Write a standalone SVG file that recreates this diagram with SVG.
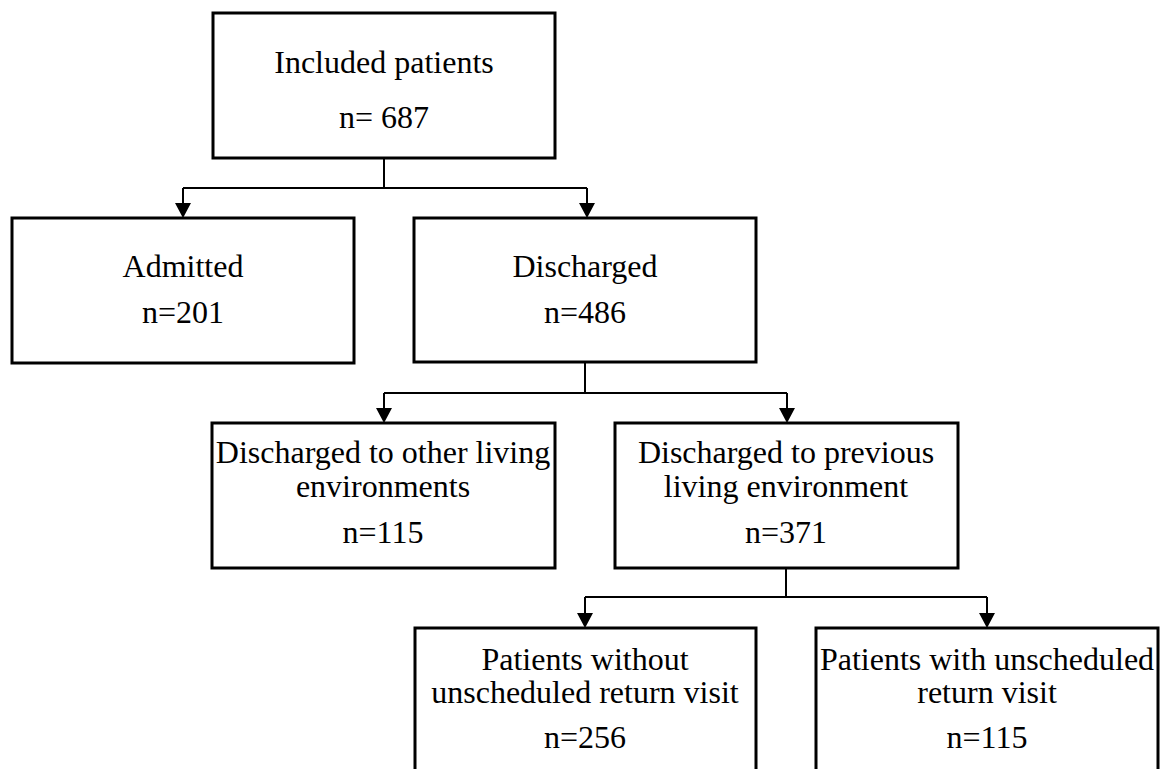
<svg xmlns="http://www.w3.org/2000/svg" width="1163" height="769" viewBox="0 0 1163 769">
<style>
.box{fill:#fff;stroke:#000;stroke-width:3}
.t{font-family:"Liberation Serif","Times New Roman",serif;font-size:32px;fill:#000;text-anchor:middle}
.c{fill:none;stroke:#000;stroke-width:2}
.ah{fill:#000;stroke:none}
</style>
<defs>
<path id="head" class="ah" d="M-8,-15 L8,-15 L0,0 Z"/>
</defs>
<g id="connectors">
<path class="c" d="M384,158 V188 M183,188 H587 M183,188 V204 M587,188 V204"/>
<path class="c" d="M585,362 V393 M384,393 H787 M384,393 V409 M787,393 V409"/>
<path class="c" d="M786,568 V597 M585,597 H987 M585,597 V614 M987,597 V614"/>
<use href="#head" x="183" y="218"/>
<use href="#head" x="587" y="218"/>
<use href="#head" x="384" y="423"/>
<use href="#head" x="787" y="423"/>
<use href="#head" x="585" y="628"/>
<use href="#head" x="987" y="628"/>
</g>
<g id="included">
<rect class="box" x="213" y="13" width="342" height="145"/>
<text class="t" x="384" y="73">Included patients</text>
<text class="t" x="384" y="128">n= 687</text>
</g>
<g id="admitted">
<rect class="box" x="12" y="218" width="342" height="145"/>
<text class="t" x="183" y="277">Admitted</text>
<text class="t" x="183" y="323">n=201</text>
</g>
<g id="discharged">
<rect class="box" x="414" y="218" width="342" height="144"/>
<text class="t" x="585" y="277">Discharged</text>
<text class="t" x="585" y="323">n=486</text>
</g>
<g id="other">
<rect class="box" x="212" y="423" width="343" height="145"/>
<text class="t" x="383" y="463">Discharged to other living</text>
<text class="t" x="383" y="497">environments</text>
<text class="t" x="383" y="543">n=115</text>
</g>
<g id="previous">
<rect class="box" x="615" y="423" width="343" height="145"/>
<text class="t" x="786" y="463">Discharged to previous</text>
<text class="t" x="786" y="497">living environment</text>
<text class="t" x="786" y="543">n=371</text>
</g>
<g id="without">
<rect class="box" x="415" y="628" width="341" height="160"/>
<text class="t" x="585" y="670">Patients without</text>
<text class="t" x="585" y="703">unscheduled return visit</text>
<text class="t" x="585" y="748">n=256</text>
</g>
<g id="with">
<rect class="box" x="816" y="628" width="342" height="160"/>
<text class="t" x="987" y="670">Patients with unscheduled</text>
<text class="t" x="987" y="703">return visit</text>
<text class="t" x="987" y="748">n=115</text>
</g>
</svg>
